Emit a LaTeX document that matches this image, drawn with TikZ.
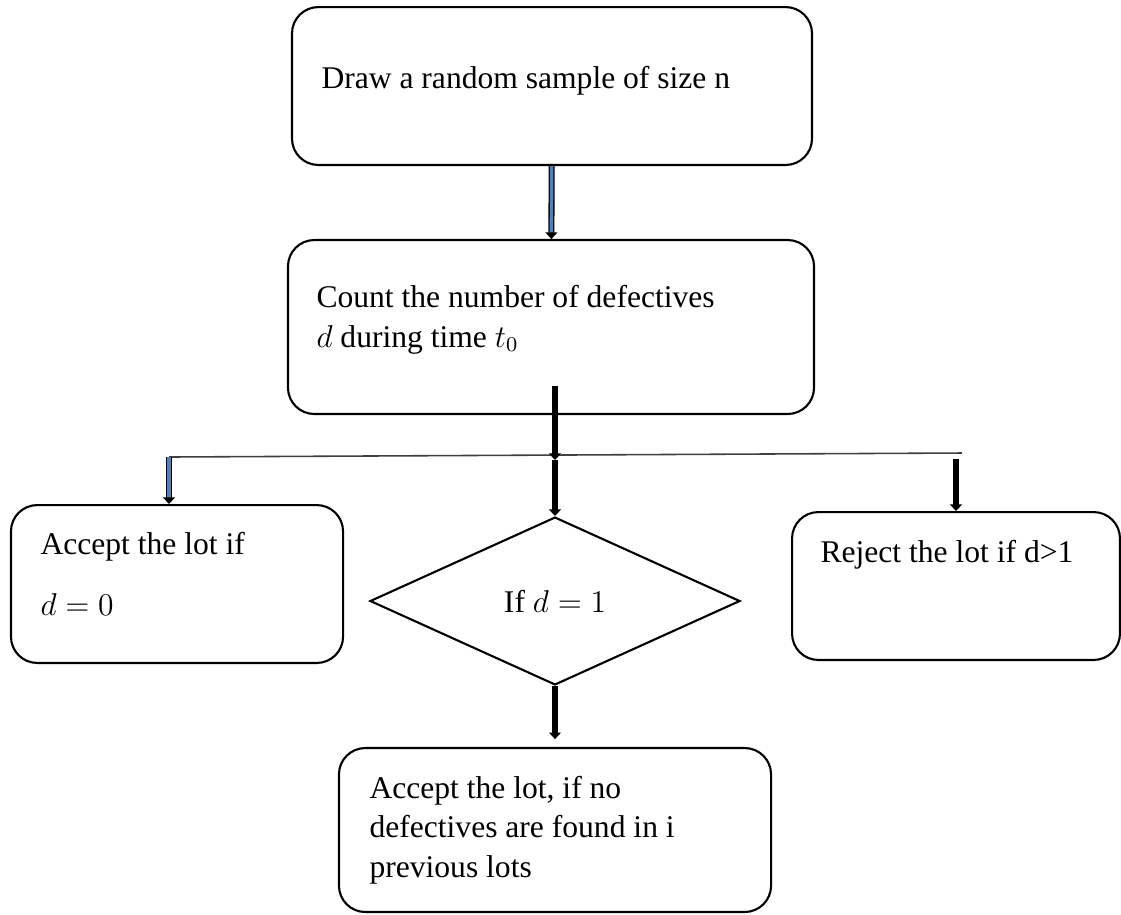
\documentclass[tikz,border=0pt]{standalone}
\usepackage{fontspec}
\setmainfont{Liberation Serif}
\usetikzlibrary{shapes.geometric, arrows.meta, calc}
\definecolor{arrowblue}{RGB}{79,129,189}

\begin{document}
\begin{tikzpicture}[x=0.38pt, y=-0.38pt,
            every node/.style={font=\fontsize{12}{15}\selectfont},
            box/.style={draw, line width=0.8pt, rounded corners=10pt, inner sep=0pt},
            txt/.style={anchor=base west, inner sep=0pt, align=left},
            thickarrow/.style={line width=2.3pt, -{Triangle[width=4.5pt,length=2.5pt]}},
            bluearrow/.style={draw=black, line width=0.5pt, double=arrowblue,
                double distance=1.3pt, -{Triangle[width=4.5pt,length=2.5pt]}}]
            \useasboundingbox (0,0) rectangle (1121,914);

            % 抽样
            \node[box, minimum width=197.6pt, minimum height=60pt] (sample) at (552,86) {};
            \node[txt] (sampletxt) at (321,88) {Draw a random sample of size n};

            % 计数 (基线取最后一行)
            \node[box, minimum width=199.9pt, minimum height=66.1pt] (count) at (551,327) {};
            \node[txt] (counttxt) at (316,347) {Count the number of defectives\\
                $d$ during time $t_0$};

            % 分支线
            \coordinate (lineL) at (169,457);
            \coordinate (lineR) at (962,453);
            \coordinate (fork) at (555,460);
            \coordinate (rjtop) at (956,459);

            % 三个结果
            \node[box, minimum width=126.2pt, minimum height=60pt] (accept) at (177,584) {};
            \node[txt] (accepttxt) at (40,615) {Accept the lot if\\[8pt]
                $d=0$};

            \node[draw, diamond, line width=0.8pt, aspect=2.2, inner sep=0pt,
                minimum width=140.6pt, minimum height=63.8pt] (check) at (555,601) {If $d=1$};

            \node[box, minimum width=124.6pt, minimum height=56.2pt] (reject) at (956,586) {};
            \node[txt] (rejecttxt) at (820,562) {Reject the lot if d>1};

            % 最终判定
            \node[box, minimum width=164.2pt, minimum height=62.3pt] (final) at (555,830) {};
            \node[txt] (finaltxt) at (369,877) {Accept the lot, if no\\
                defectives are found in i\\
                previous lots};

            % 箭头连接
            \draw[line width=0.6pt, black!75] (lineL) -- (lineR);
            \draw[bluearrow] (sample) -- (count);
            \draw[thickarrow] ($(count.south)+(4,-29)$) -- (fork);
            \draw[thickarrow] (fork) -- (check.north);
            \draw[bluearrow] (lineL) -- (lineL |- accept.north);
            \draw[thickarrow] (rjtop) -- (reject.north);
            \draw[thickarrow, shorten >=3pt] (check.south) -- (final.north);
        \end{tikzpicture}
\end{document}
